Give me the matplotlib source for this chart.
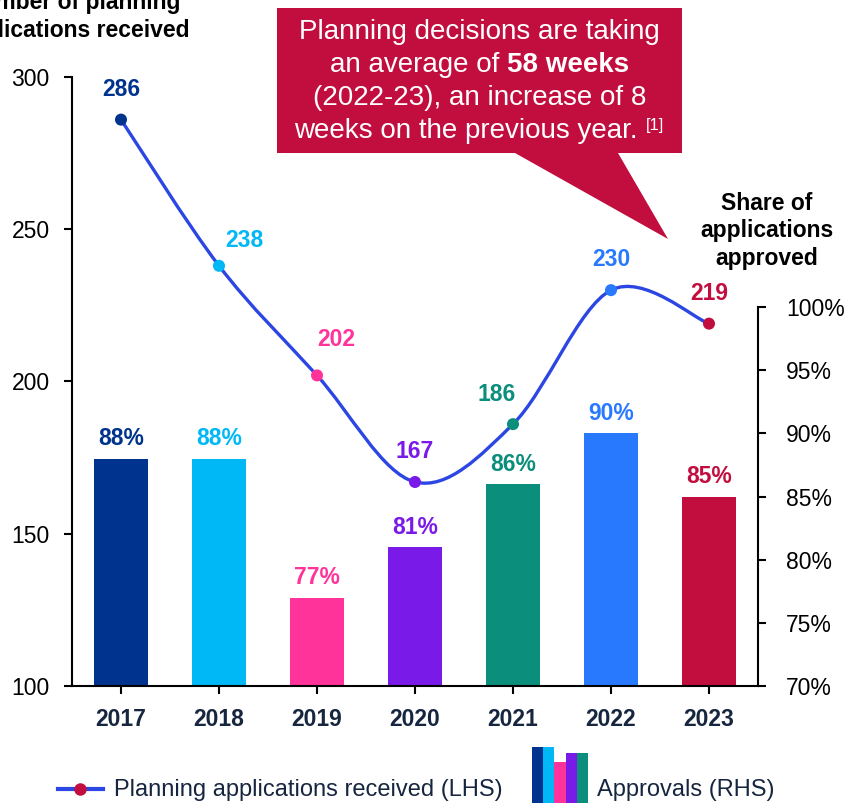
import matplotlib
matplotlib.use("Agg")
import matplotlib.pyplot as plt
from matplotlib.path import Path
from matplotlib.patches import PathPatch, Polygon, Rectangle
from matplotlib.lines import Line2D
from matplotlib.offsetbox import TextArea, HPacker, AnnotationBbox
import numpy as np

plt.rcParams['font.family'] = ['Liberation Sans', 'DejaVu Sans']

# ---------------- data ----------------
years = ["2017", "2018", "2019", "2020", "2021", "2022", "2023"]
applications = [286, 238, 202, 167, 186, 230, 219]          # LHS, thousands
approval_share = [88, 88, 77, 81, 86, 90, 85]               # RHS, %
colors = ["#00338D", "#00B8F5", "#FF3399", "#7A1AE8", "#0B8E7B", "#2979FF", "#C10E3E"]
left_ticks = [100, 150, 200, 250, 300]
right_ticks = [70, 75, 80, 85, 90, 95, 100]
icon_heights = [1.0, 1.0, 0.73, 0.89, 0.89]
icon_colors = ["#00338D", "#00B8F5", "#FF3399", "#7A1AE8", "#0B8E7B"]

LINE_COLOR = "#2B46E3"
NAVY = "#17263F"
CALLOUT = "#C10E3E"

W, H = 845, 805
fig = plt.figure(figsize=(W / 100, H / 100), dpi=100)

def fx(px):
    return px / W

def fy(py):
    return 1 - py / H

ax_l, ax_r, ax_t, ax_b = 72, 758, 77, 686
ax = fig.add_axes([fx(ax_l), fy(ax_b), fx(ax_r) - fx(ax_l), fy(ax_t) - fy(ax_b)])
ax2 = ax.twinx()

x = np.arange(len(years))

# ---- bars on right axis ----
ax2.bar(x, approval_share, width=0.56, color=colors, zorder=1)
for xi, v, c in zip(x, approval_share, colors):
    ax2.annotate(f"{v}%", (xi, v), xytext=(0, 6), textcoords="offset points",
                 ha="center", va="bottom", color=c, fontsize=16.5, fontweight="bold")

r_top = 70 + (ax_b - ax_t) / ((ax_b - 307) / 30.0)
ax2.set_ylim(70, r_top)
ax2.set_yticks(right_ticks)
ax2.set_yticklabels([f"{t}%" for t in right_ticks])
ax2.spines["right"].set_bounds(70, 100)

# ---- smoothed line on left axis (Bezier path through data points) ----
ax.set_zorder(ax2.get_zorder() + 1)
ax.patch.set_visible(False)
pts = np.column_stack([x, applications]).astype(float)
verts = [tuple(pts[0])]
codes = [Path.MOVETO]
n = len(pts)
for i in range(n - 1):
    p0 = pts[i - 1] if i > 0 else pts[i]
    p1 = pts[i]
    p2 = pts[i + 1]
    p3 = pts[i + 2] if i + 2 < n else pts[i + 1]
    c1 = p1 + (p2 - p0) / 6.0
    c2 = p2 - (p3 - p1) / 6.0
    verts += [tuple(c1), tuple(c2), tuple(p2)]
    codes += [Path.CURVE4] * 3
ax.add_patch(PathPatch(Path(verts, codes), facecolor="none", edgecolor=LINE_COLOR,
                       lw=2.4, zorder=3, capstyle="round"))
ax.scatter(x, applications, s=75, c=colors, zorder=4, linewidths=0)

label_offsets = [(0, 22), (18, 18), (14, 26), (0, 22), (-12, 21), (0, 22), (0, 22)]
for xi, v, c, off in zip(x, applications, colors, label_offsets):
    ax.annotate(f"{v}", (xi, v), xytext=off, textcoords="offset points",
                ha="center", va="center", color=c, fontsize=16.5, fontweight="bold")

ax.set_xlim(-0.5, len(years) - 0.5)
ax.set_ylim(100, 300)
ax.set_yticks(left_ticks)
ax.set_xticks(x)
ax.set_xticklabels(years, fontweight="bold", color=NAVY)

for a in (ax, ax2):
    a.spines["top"].set_visible(False)
ax.spines["right"].set_visible(False)
ax2.spines["left"].set_visible(False)
ax2.spines["bottom"].set_visible(False)
for s in ("left", "bottom"):
    ax.spines[s].set_linewidth(1.5)
ax2.spines["right"].set_linewidth(1.5)

ax.tick_params(axis="y", length=6, width=1.5, pad=10, labelsize=16.5, colors="black")
ax.tick_params(axis="x", length=6, width=1.5, pad=10, labelsize=16.5)
ax2.tick_params(axis="y", length=6, width=1.5, pad=14, labelsize=16.5)

# ---- axis titles ----
fig.text(fx(73), fy(37), "Number of planning\napplications received", ha="center",
         va="baseline", fontsize=16.5, fontweight="bold", linespacing=1.25)
fig.text(fx(767), fy(231), "Share of\napplications\napproved", ha="center",
         va="center", fontsize=16.5, fontweight="bold", linespacing=1.25)

# ---- callout ----
box = [(277, 8), (682, 8), (682, 153), (618, 153), (668, 239), (515, 153), (277, 153)]
fig.patches.append(Polygon([(fx(a), fy(b)) for a, b in box], closed=True,
                           transform=fig.transFigure, facecolor=CALLOUT,
                           edgecolor="none", zorder=5))

reg = dict(color="white", fontsize=20)
bold = dict(color="white", fontsize=20, fontweight="bold")
sup = dict(color="white", fontsize=12)
lines = [
    [("Planning decisions are taking", reg)],
    [("an average of", reg), ("58 weeks", bold)],
    [("(2022-23), an increase of 8", reg)],
    [("weeks on the previous year.", reg), ("[1]", sup)],
]
line_y = [32, 65, 98, 131]
cx = (277 + 682) / 2
for parts, yy in zip(lines, line_y):
    children = [TextArea(t, textprops=p) for t, p in parts]
    pk = HPacker(children=children, align="top", pad=0, sep=6)
    ab = AnnotationBbox(pk, (fx(cx), fy(yy)), xycoords="figure fraction",
                        frameon=False, box_alignment=(0.5, 0.5), pad=0, zorder=6)
    fig.add_artist(ab)

# ---- legend ----
fig.add_artist(Line2D([fx(58), fx(103)], [fy(789), fy(789)], color=LINE_COLOR, lw=3,
                      transform=fig.transFigure))
fig.add_artist(Line2D([fx(80)], [fy(789)], marker="o", markersize=9, color=CALLOUT,
                      markeredgewidth=0, transform=fig.transFigure))
fig.text(fx(114), fy(790), "Planning applications received (LHS)", ha="left", va="center",
         fontsize=17, color=NAVY)
icon_w = (588 - 532) / len(icon_heights)
for i, (hh, cc) in enumerate(zip(icon_heights, icon_colors)):
    fig.add_artist(Rectangle((fx(532 + i * icon_w), fy(803)), fx(icon_w), 56 * hh / H,
                             transform=fig.transFigure, facecolor=cc, edgecolor="none"))
fig.text(fx(597), fy(790), "Approvals (RHS)", ha="left", va="center", fontsize=17, color=NAVY)

fig.savefig("out.png", dpi=100)
